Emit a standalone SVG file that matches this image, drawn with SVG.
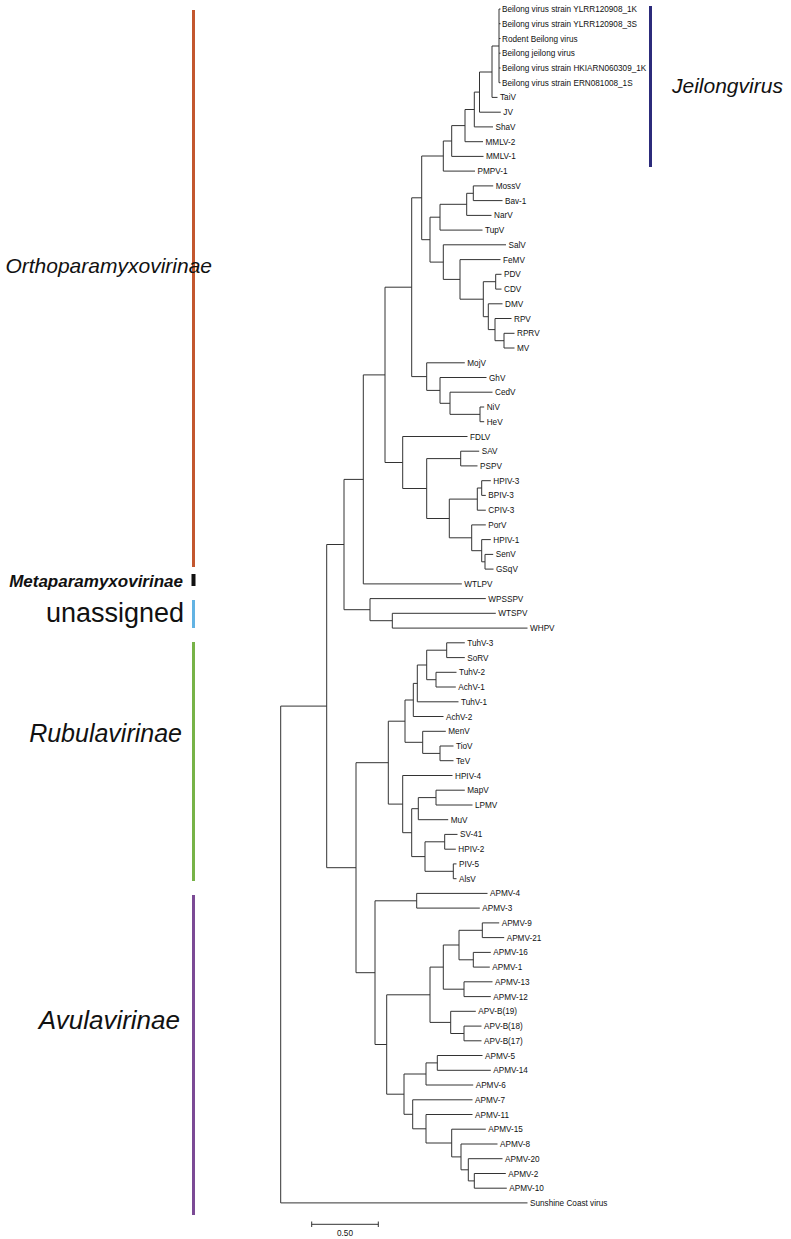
<svg xmlns="http://www.w3.org/2000/svg" width="791" height="1239" viewBox="0 0 791 1239">
<style>
.br{fill:none;stroke:#333;stroke-width:1}
.lf{font-family:"Liberation Sans",Arial,sans-serif;font-size:8.2px;fill:#111}
.cl{font-family:"Liberation Sans",Arial,sans-serif;font-style:italic;fill:#111}
</style>
<rect width="791" height="1239" fill="#fff"/>
<g id="connectors" class="br">
<path d="M499 9V82.7M499 9H500.5M499 23.7H500.5M499 38.5H500.5M499 53.2H500.5M499 68H500.5M499 82.7H500.5"/>
<path d="M492 46V97.4M492 46H499M492 97.4H497.5"/>
<path d="M479.5 72V112.2M479.5 72H492M479.5 112.2H500.8"/>
<path d="M474.3 92.1V126.9M474.3 92.1H479.5M474.3 126.9H493"/>
<path d="M465 109.5V141.7M465 109.5H474.3M465 141.7H483"/>
<path d="M451.7 125.6V156.4M451.7 125.6H465M451.7 156.4H483.5"/>
<path d="M443.3 141V171.1M443.3 141H451.7M443.3 171.1H475"/>
<path d="M421.7 156V239.7M421.7 156H443.3M421.7 239.7H430"/>
<path d="M473.3 185.9V200.6M473.3 185.9H493.2M473.3 200.6H502.5"/>
<path d="M466.7 193.3V215.4M466.7 193.3H473.3M466.7 215.4H491.5"/>
<path d="M440 204.3V230.1M440 204.3H466.7M440 230.1H482.5"/>
<path d="M430 217.2V262.1M430 217.2H440M430 262.1H443.3"/>
<path d="M443.3 244.8V279.4M443.3 244.8H506M443.3 279.4H460"/>
<path d="M460 259.6V299.2M460 259.6H500.5M460 299.2H483.3"/>
<path d="M495.7 274.3V289.1M495.7 274.3H501.5M495.7 289.1H501.5"/>
<path d="M483.3 281.7V316.7M483.3 281.7H495.7M483.3 316.7H488.3"/>
<path d="M488.3 303.8V329.6M488.3 303.8H502.5M488.3 329.6H495"/>
<path d="M495 318.5V340.7M495 318.5H511.5M495 340.7H504"/>
<path d="M504 333.3V348M504 333.3H514.5M504 348H514.5"/>
<path d="M411.7 197.8V376.6M411.7 197.8H421.7M411.7 376.6H426.7"/>
<path d="M480 407V421.7M480 407H484.2M480 421.7H484.2"/>
<path d="M450 392.2V414.35M450 392.2H492.5M450 414.35H480"/>
<path d="M440 377.5V403.3M440 377.5H486.5M440 403.3H450"/>
<path d="M426.7 362.8V390.4M426.7 362.8H464.8M426.7 390.4H440"/>
<path d="M460.7 451.2V465.9M460.7 451.2H479.2M460.7 465.9H477.5"/>
<path d="M481.7 480.7V495.4M481.7 480.7H490.8M481.7 495.4H485.8"/>
<path d="M477.3 488V510.2M477.3 488H481.7M477.3 510.2H485.8"/>
<path d="M485 554.4V569.1M485 554.4H493.2M485 569.1H493.5"/>
<path d="M481.7 539.6V561.8M481.7 539.6H490.8M481.7 561.8H485"/>
<path d="M471.7 524.9V550.7M471.7 524.9H485.8M471.7 550.7H481.7"/>
<path d="M449.3 499.1V537.8M449.3 499.1H477.3M449.3 537.8H471.7"/>
<path d="M426.7 458.6V518.5M426.7 458.6H460.7M426.7 518.5H449.3"/>
<path d="M402.7 436.5V488.5M402.7 436.5H467.5M402.7 488.5H426.7"/>
<path d="M385 287.2V462.5M385 287.2H411.7M385 462.5H402.7"/>
<path d="M363.3 374.9V583.9M363.3 374.9H385M363.3 583.9H461.8"/>
<path d="M392.3 613.3V628.1M392.3 613.3H495.8M392.3 628.1H527.5"/>
<path d="M370 598.6V620.7M370 598.6H485.8M370 620.7H392.3"/>
<path d="M344 479.4V609.7M344 479.4H363.3M344 609.7H370"/>
<path d="M326.7 544.5V867.7M326.7 544.5H344M326.7 867.7H356"/>
<path d="M446.7 642.8V657.6M446.7 642.8H464.8M446.7 657.6H464.8"/>
<path d="M436 672.3V687M436 672.3H456.5M436 687H455.8"/>
<path d="M426.7 650.2V679.7M426.7 650.2H446.7M426.7 679.7H436"/>
<path d="M417.3 665V701.8M417.3 665H426.7M417.3 701.8H458.5"/>
<path d="M413.3 683.4V716.5M413.3 683.4H417.3M413.3 716.5H443.5"/>
<path d="M440 746V760.7M440 746H453.5M440 760.7H453.5"/>
<path d="M422.7 731.3V753.4M422.7 731.3H445.8M422.7 753.4H440"/>
<path d="M405 700V742.3M405 700H413.3M405 742.3H422.7"/>
<path d="M436 790.2V805M436 790.2H464.8M436 805H472.5"/>
<path d="M418.3 797.6V819.7M418.3 797.6H436M418.3 819.7H448.2"/>
<path d="M444.7 834.4V849.2M444.7 834.4H457.5M444.7 849.2H455.8"/>
<path d="M453.3 863.9V878.7M453.3 863.9H456.5M453.3 878.7H456.5"/>
<path d="M425 841.8V871.3M425 841.8H444.7M425 871.3H453.3"/>
<path d="M411.7 808.7V856.6M411.7 808.7H418.3M411.7 856.6H425"/>
<path d="M402.7 775.5V832.7M402.7 775.5H452.5M402.7 832.7H411.7"/>
<path d="M388.3 721.2V804.1M388.3 721.2H405M388.3 804.1H402.7"/>
<path d="M356 762.7V972.7M356 762.7H388.3M356 972.7H375"/>
<path d="M416.7 893.4V908.1M416.7 893.4H487.5M416.7 908.1H479.8"/>
<path d="M482.3 922.9V937.6M482.3 922.9H499.2M482.3 937.6H504.2"/>
<path d="M473.3 952.4V967.1M473.3 952.4H490.8M473.3 967.1H489.8"/>
<path d="M459 930.3V959.8M459 930.3H482.3M459 959.8H473.3"/>
<path d="M464 981.8V996.6M464 981.8H492.5M464 996.6H490.8"/>
<path d="M443.3 945V989.2M443.3 945H459M443.3 989.2H464"/>
<path d="M464 1026.1V1040.8M464 1026.1H481.5M464 1040.8H481.5"/>
<path d="M450.7 1011.3V1033.5M450.7 1011.3H475.8M450.7 1033.5H464"/>
<path d="M430 967.1V1022.4M430 967.1H443.3M430 1022.4H450.7"/>
<path d="M437.3 1055.5V1070.3M437.3 1055.5H482.5M437.3 1070.3H490.8"/>
<path d="M426 1062.9V1085M426 1062.9H437.3M426 1085H473.2"/>
<path d="M474.3 1173.5V1188.2M474.3 1173.5H505.8M474.3 1188.2H506.8"/>
<path d="M468.3 1158.7V1180.9M468.3 1158.7H502.5M468.3 1180.9H474.3"/>
<path d="M461 1144V1169.8M461 1144H497.5M461 1169.8H468.3"/>
<path d="M451.7 1129.2V1156.9M451.7 1129.2H485.8M451.7 1156.9H461"/>
<path d="M426 1114.5V1143M426 1114.5H472.5M426 1143H451.7"/>
<path d="M412.7 1099.8V1128.8M412.7 1099.8H472.5M412.7 1128.8H426"/>
<path d="M404 1074V1114.3M404 1074H426M404 1114.3H412.7"/>
<path d="M386.7 994.8V1094.2M386.7 994.8H430M386.7 1094.2H404"/>
<path d="M375 900.8V1044.5M375 900.8H416.7M375 1044.5H386.7"/>
<path d="M280.7 706.1V1202.9M280.7 706.1H326.7M280.7 1202.9H527.5"/>
</g>
<g id="leaves" class="lf">
<g id="n1"><text x="502" y="12">Beilong virus strain YLRR120908_1K</text></g>
<g id="n2"><text x="502" y="26.7">Beilong virus strain YLRR120908_3S</text></g>
<g id="n3"><text x="502" y="41.5">Rodent Beilong virus</text></g>
<g id="n4"><text x="502" y="56.2">Beilong jeilong virus</text></g>
<g id="n5"><text x="502" y="71">Beilong virus strain HKIARN060309_1K</text></g>
<g id="n6"><text x="502" y="85.7">Beilong virus strain ERN081008_1S</text></g>
<g id="n7"><text x="500" y="100.4">TaiV</text></g>
<g id="n8"><text x="503.3" y="115.2">JV</text></g>
<g id="n9"><text x="495.5" y="129.9">ShaV</text></g>
<g id="n10"><text x="485.5" y="144.7">MMLV-2</text></g>
<g id="n11"><text x="486" y="159.4">MMLV-1</text></g>
<g id="n12"><text x="477.5" y="174.1">PMPV-1</text></g>
<g id="n13"><text x="495.7" y="188.9">MossV</text></g>
<g id="n14"><text x="505" y="203.6">Bav-1</text></g>
<g id="n15"><text x="494" y="218.4">NarV</text></g>
<g id="n16"><text x="485" y="233.1">TupV</text></g>
<g id="n17"><text x="508.5" y="247.8">SalV</text></g>
<g id="n18"><text x="503" y="262.6">FeMV</text></g>
<g id="n19"><text x="504" y="277.3">PDV</text></g>
<g id="n20"><text x="504" y="292.1">CDV</text></g>
<g id="n21"><text x="505" y="306.8">DMV</text></g>
<g id="n22"><text x="514" y="321.5">RPV</text></g>
<g id="n23"><text x="517" y="336.3">RPRV</text></g>
<g id="n24"><text x="517" y="351">MV</text></g>
<g id="n25"><text x="467.3" y="365.8">MojV</text></g>
<g id="n26"><text x="489" y="380.5">GhV</text></g>
<g id="n27"><text x="495" y="395.2">CedV</text></g>
<g id="n28"><text x="486.7" y="410">NiV</text></g>
<g id="n29"><text x="486.7" y="424.7">HeV</text></g>
<g id="n30"><text x="470" y="439.5">FDLV</text></g>
<g id="n31"><text x="481.7" y="454.2">SAV</text></g>
<g id="n32"><text x="480" y="468.9">PSPV</text></g>
<g id="n33"><text x="493.3" y="483.7">HPIV-3</text></g>
<g id="n34"><text x="488.3" y="498.4">BPIV-3</text></g>
<g id="n35"><text x="488.3" y="513.2">CPIV-3</text></g>
<g id="n36"><text x="488.3" y="527.9">PorV</text></g>
<g id="n37"><text x="493.3" y="542.6">HPIV-1</text></g>
<g id="n38"><text x="495.7" y="557.4">SenV</text></g>
<g id="n39"><text x="496" y="572.1">GSqV</text></g>
<g id="n40"><text x="464.3" y="586.9">WTLPV</text></g>
<g id="n41"><text x="488.3" y="601.6">WPSSPV</text></g>
<g id="n42"><text x="498.3" y="616.3">WTSPV</text></g>
<g id="n43"><text x="530" y="631.1">WHPV</text></g>
<g id="n44"><text x="467.3" y="645.8">TuhV-3</text></g>
<g id="n45"><text x="467.3" y="660.6">SoRV</text></g>
<g id="n46"><text x="459" y="675.3">TuhV-2</text></g>
<g id="n47"><text x="458.3" y="690">AchV-1</text></g>
<g id="n48"><text x="461" y="704.8">TuhV-1</text></g>
<g id="n49"><text x="446" y="719.5">AchV-2</text></g>
<g id="n50"><text x="448.3" y="734.3">MenV</text></g>
<g id="n51"><text x="456" y="749">TioV</text></g>
<g id="n52"><text x="456" y="763.7">TeV</text></g>
<g id="n53"><text x="455" y="778.5">HPIV-4</text></g>
<g id="n54"><text x="467.3" y="793.2">MapV</text></g>
<g id="n55"><text x="475" y="808">LPMV</text></g>
<g id="n56"><text x="450.7" y="822.7">MuV</text></g>
<g id="n57"><text x="460" y="837.4">SV-41</text></g>
<g id="n58"><text x="458.3" y="852.2">HPIV-2</text></g>
<g id="n59"><text x="459" y="866.9">PIV-5</text></g>
<g id="n60"><text x="459" y="881.7">AlsV</text></g>
<g id="n61"><text x="490" y="896.4">APMV-4</text></g>
<g id="n62"><text x="482.3" y="911.1">APMV-3</text></g>
<g id="n63"><text x="501.7" y="925.9">APMV-9</text></g>
<g id="n64"><text x="506.7" y="940.6">APMV-21</text></g>
<g id="n65"><text x="493.3" y="955.4">APMV-16</text></g>
<g id="n66"><text x="492.3" y="970.1">APMV-1</text></g>
<g id="n67"><text x="495" y="984.8">APMV-13</text></g>
<g id="n68"><text x="493.3" y="999.6">APMV-12</text></g>
<g id="n69"><text x="478.3" y="1014.3">APV-B(19)</text></g>
<g id="n70"><text x="484" y="1029.1">APV-B(18)</text></g>
<g id="n71"><text x="484" y="1043.8">APV-B(17)</text></g>
<g id="n72"><text x="485" y="1058.5">APMV-5</text></g>
<g id="n73"><text x="493.3" y="1073.3">APMV-14</text></g>
<g id="n74"><text x="475.7" y="1088">APMV-6</text></g>
<g id="n75"><text x="475" y="1102.8">APMV-7</text></g>
<g id="n76"><text x="475" y="1117.5">APMV-11</text></g>
<g id="n77"><text x="488.3" y="1132.2">APMV-15</text></g>
<g id="n78"><text x="500" y="1147">APMV-8</text></g>
<g id="n79"><text x="505" y="1161.7">APMV-20</text></g>
<g id="n80"><text x="508.3" y="1176.5">APMV-2</text></g>
<g id="n81"><text x="509.3" y="1191.2">APMV-10</text></g>
<g id="n82"><text x="530" y="1205.9">Sunshine Coast virus</text></g>
</g>
<g id="scalebar">
<path class="br" d="M311.7 1224.3H378.3M311.7 1221.5V1227M378.3 1221.5V1227"/>
<text class="lf" x="345" y="1236" text-anchor="middle">0.50</text>
</g>
<g id="clade-ortho">
<rect x="192" y="10" width="3" height="557" fill="#c3572f"/>
<text class="cl" x="212" y="273" font-size="21" text-anchor="end">Orthoparamyxovirinae</text>
</g>
<g id="clade-meta">
<rect x="191.5" y="574" width="4" height="12" fill="#111"/>
<text class="cl" x="183" y="587" font-size="17" font-weight="bold" text-anchor="end">Metaparamyxovirinae</text>
</g>
<g id="clade-unassigned">
<rect x="192" y="600" width="3" height="28" fill="#62b3e3"/>
<text x="184" y="622" font-family="Liberation Sans, Arial, sans-serif" font-size="27" fill="#111" text-anchor="end">unassigned</text>
</g>
<g id="clade-rubula">
<rect x="192" y="642" width="3" height="239" fill="#77b347"/>
<text class="cl" x="182" y="742" font-size="25" text-anchor="end">Rubulavirinae</text>
</g>
<g id="clade-avula">
<rect x="192" y="895" width="3" height="320" fill="#7b4a95"/>
<text class="cl" x="180" y="1029" font-size="26" text-anchor="end">Avulavirinae</text>
</g>
<g id="clade-jeilong">
<rect x="649" y="6" width="3" height="161" fill="#2c2b7b"/>
<text class="cl" x="672" y="93" font-size="21">Jeilongvirus</text>
</g>
</svg>
